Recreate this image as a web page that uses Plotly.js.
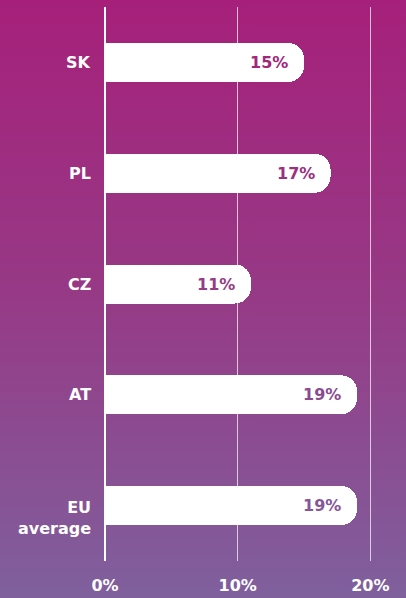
<!DOCTYPE html>
<html>
<head>
<meta charset="utf-8">
<script src="https://cdn.plot.ly/plotly-3.0.1.min.js"></script>
<style>
html,body{margin:0;padding:0;}
#chart{width:406px;height:598px;background:linear-gradient(to bottom,#a6207a 0%,#963a86 50%,#7f609d 100%);}
</style>
</head>
<body>
<div id="chart"></div>
<script>
const categories = ["SK", "PL", "CZ", "AT", "EU<br>average"];
const values = [15, 17, 11, 19, 19];
const valueLabels = ["15%", "17%", "11%", "19%", "19%"];
const labelColors = ["#a3267b", "#9c2f80", "#933d86", "#8b4a90", "#855699"];
const tickVals = [0, 10, 20];
const tickText = ["0%", "10%", "20%"];

const FONT = "'DejaVu Sans', 'Open Sans', sans-serif";
const SIZE = 16;

const trace = {
  type: "bar",
  orientation: "h",
  y: categories,
  x: values,
  width: 0.352,
  marker: {color: "#ffffff", cornerradius: 16, line: {width: 0}},
  hoverinfo: "skip"
};

const valueAnn = categories.map((c, i) => ({
  x: values[i], y: c, xref: "x", yref: "y",
  text: "<b>" + valueLabels[i] + "</b>",
  showarrow: false, xanchor: "right", xshift: -14,
  font: {family: FONT, size: SIZE, color: labelColors[i], weight: "bold"}
}));

const catAnn = categories.map((c) => {
  const lines = c.split("<br>").length;
  return {
    x: 0, y: c, xref: "x", yref: "y",
    text: "<b>" + c + "</b>",
    showarrow: false, xanchor: "right", align: "right", xshift: -12,
    yshift: -(lines - 1) * 12,
    font: {family: FONT, size: SIZE, color: "#ffffff", weight: "bold"}
  };
});

const layout = {
  width: 406, height: 598,
  margin: {l: 105, r: 33, t: 7, b: 37},
  paper_bgcolor: "rgba(0,0,0,0)",
  plot_bgcolor: "rgba(0,0,0,0)",
  showlegend: false,
  bargap: 0,
  xaxis: {
    range: [0, 20.2], tickvals: tickVals, ticktext: tickText,
    showgrid: true, gridcolor: "rgba(255,255,255,0.7)", gridwidth: 1,
    zeroline: true, zerolinecolor: "#ffffff", zerolinewidth: 1.5,
    showline: false, ticks: "", ticklabelstandoff: 13,
    tickfont: {family: FONT, size: SIZE, color: "#ffffff", weight: "bold"},
    fixedrange: true
  },
  yaxis: {
    autorange: "reversed", categoryorder: "array", categoryarray: categories,
    showgrid: false, zeroline: false, showline: false, ticks: "",
    showticklabels: false, fixedrange: true
  },
  annotations: valueAnn.concat(catAnn)
};

Plotly.newPlot("chart", [trace], layout, {displayModeBar: false, staticPlot: true});
</script>
</body>
</html>
